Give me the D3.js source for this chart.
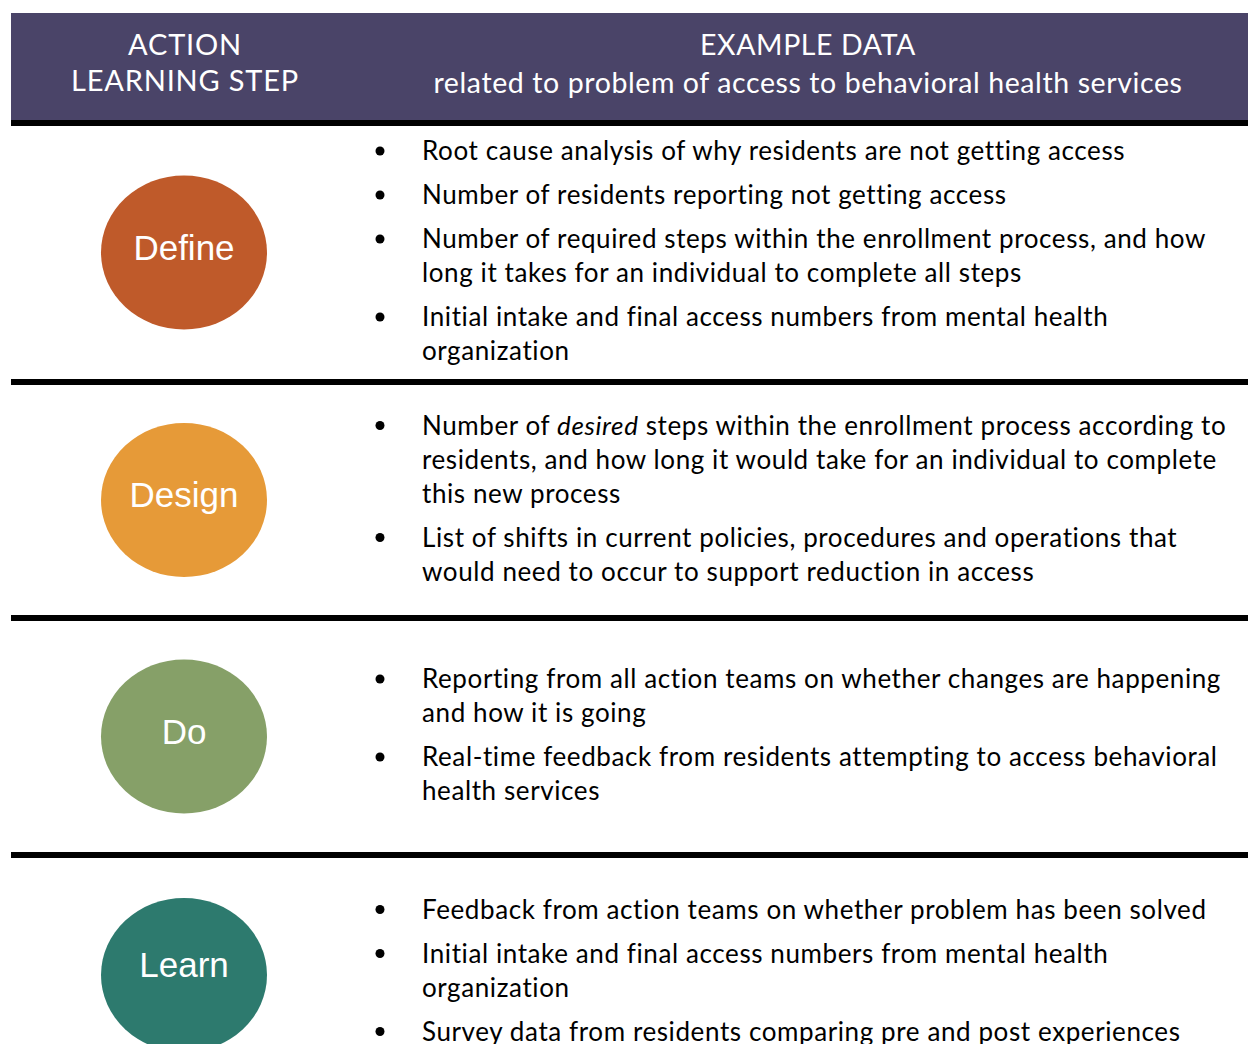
<!DOCTYPE html>
<html><head><meta charset="utf-8">
<script src="https://cdn.jsdelivr.net/npm/d3@7"></script>
<style>body{margin:0;background:#fff}svg{display:block}text{font-variant-ligatures:none}</style>
</head><body>
<script>
const headerLeft = ["ACTION", "LEARNING STEP"];
const headerRight = ["EXAMPLE DATA", "related to problem of access to behavioral health services"];
const steps = ["Define", "Design", "Do", "Learn"];
const stepColors = ["#bf5a2a", "#e69a38", "#86a068", "#2d7a6e"];
// each bullet is a list of lines; *word* = italic
const bullets = [
  [
    ["Root cause analysis of why residents are not getting access"],
    ["Number of residents reporting not getting access"],
    ["Number of required steps within the enrollment process, and how", "long it takes for an individual to complete all steps"],
    ["Initial intake and final access numbers from mental health", "organization"]
  ],
  [
    ["Number of *desired* steps within the enrollment process according to", "residents, and how long it would take for an individual to complete", "this new process"],
    ["List of shifts in current policies, procedures and operations that", "would need to occur to support reduction in access"]
  ],
  [
    ["Reporting from all action teams on whether changes are happening", "and how it is going"],
    ["Real-time feedback from residents attempting to access behavioral", "health services"]
  ],
  [
    ["Feedback from action teams on whether problem has been solved"],
    ["Initial intake and final access numbers from mental health", "organization"],
    ["Survey data from residents comparing pre and post experiences"]
  ]
];

const W = 1248, H = 1044;
const svg = d3.select("body").append("svg").attr("width", W).attr("height", H);
const font = "Lato, 'Open Sans', sans-serif";
const L = 11, R = 1248;
const rowBounds = [[126, 379], [385, 615], [621, 852], [858, 1092]];
const sepLines = [[120, 126], [379, 385], [615, 621], [852, 858]];

// header
svg.append("rect").attr("x", L).attr("y", 13).attr("width", R - L).attr("height", 107).attr("fill", "#4a4468");
const hl = svg.append("text").attr("font-family", font).attr("font-size", 29).attr("letter-spacing", 0.8).attr("fill", "#fff").attr("text-anchor", "middle");
headerLeft.forEach((t, i) => hl.append("tspan").attr("x", 185).attr("y", 55 + i * 36).text(t));
const hr = svg.append("text").attr("font-family", font).attr("font-size", 28.5).attr("letter-spacing", 0.6).attr("fill", "#fff").attr("text-anchor", "middle");
headerRight.forEach((t, i) => hr.append("tspan").attr("x", 808).attr("y", 55 + i * 38).text(t));

svg.selectAll("rect.sep").data(sepLines).join("rect").attr("class", "sep")
  .attr("x", L).attr("y", d => d[0]).attr("width", R - L).attr("height", d => d[1] - d[0]).attr("fill", "#000");

const rows = d3.scaleOrdinal().domain(steps).range(rowBounds.map(b => (b[0] + b[1]) / 2));
const color = d3.scaleOrdinal().domain(steps).range(stepColors);

const g = svg.selectAll("g.row").data(steps).join("g").attr("class", "row");
g.append("ellipse").attr("cx", 184).attr("cy", d => rows(d)).attr("rx", 83).attr("ry", 77).attr("fill", d => color(d));
g.append("text").attr("x", 184).attr("y", d => rows(d) + (d === "Learn" ? 2 : 7))
  .attr("text-anchor", "middle")
  .attr("font-family", "'Liberation Sans', Arial, sans-serif").attr("font-size", 35).attr("fill", "#fff").text(d => d);

const LH = 34, GAP = 10, FS = 26;
steps.forEach((s, i) => {
  const bs = bullets[i];
  const nLines = d3.sum(bs, b => b.length);
  const blockH = (nLines - 1) * LH + (bs.length - 1) * GAP;
  let y = rows(s) - blockH / 2 - 1.5;
  if (s === "Learn") y -= 3;
  bs.forEach(b => {
    svg.append("circle").attr("cx", 380).attr("cy", y).attr("r", 4.5).attr("fill", "#000");
    b.forEach(line => {
      const t = svg.append("text").attr("x", 422).attr("y", y + 9).attr("font-family", font)
        .attr("font-size", FS).attr("letter-spacing", 0.6).attr("fill", "#000");
      line.split(/(\*[^*]+\*)/).filter(p => p).forEach(p => {
        if (p.startsWith("*")) t.append("tspan").attr("font-style", "italic").text(p.slice(1, -1));
        else t.append("tspan").text(p);
      });
      y += LH;
    });
    y += GAP;
  });
});
</script>
</body></html>
